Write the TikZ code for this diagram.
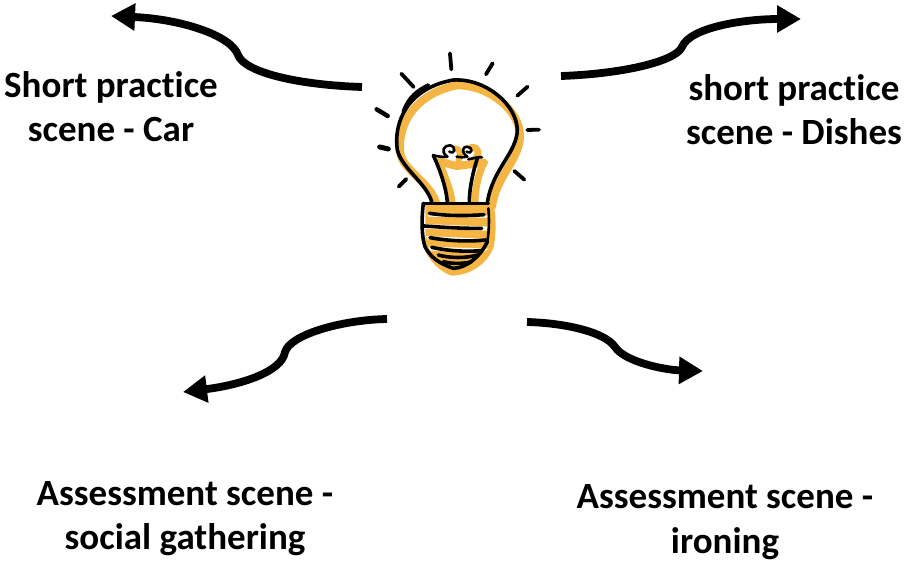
\documentclass[tikz,border=0pt]{standalone}
\usepackage{fontspec}
\setmainfont{Carlito}[Ligatures={NoCommon}]
\usetikzlibrary{arrows.meta}
\definecolor{bulbgold}{HTML}{F4B545}
\tikzset{
  lbl/.style={align=center,font=\fontsize{37}{44.5}\selectfont\bfseries,inner sep=0pt,text=black},
  flow/.style={line width=7.8pt,-{Triangle[length=24pt,width=26pt]}},
  ink/.style={line width=3.6pt,line cap=round,line join=round},
  inkthin/.style={line width=2.6pt,line cap=round,line join=round},
  glow/.style={line width=3.8pt,line cap=round},
  gold/.style={bulbgold,line width=4.5pt,line join=round,line cap=round}
}
\begin{document}
\begin{tikzpicture}[x=1pt,y=-1pt]
\useasboundingbox (0,0) rectangle (914,562);
% labels
\node[lbl] (car) at (111,106.5) {Short practice\\scene - Car};
\node[lbl] (dishes) at (794,109.5) {short practice\\scene - Dishes};
\node[lbl] (social) at (185,518.5) {Assessment scene -\\social gathering};
\node[lbl] (ironing) at (725,522.3) {Assessment scene -\\ironing};
% connector ends
\coordinate (tlA) at (362,87); \coordinate (tlB) at (111,16);
\coordinate (trA) at (561,76); \coordinate (trB) at (801,19);
\coordinate (blA) at (387,319); \coordinate (blB) at (183,392);
\coordinate (brA) at (527,322); \coordinate (brB) at (703,371);
\draw[flow] (tlA) .. controls (300,85) and (245,73) .. (238,55) .. controls (231,35) and (180,19) .. (tlB);
\draw[flow] (trA) .. controls (620,74) and (675,62) .. (682,47) .. controls (690,27) and (745,19) .. (trB);
\draw[flow] (blA) .. controls (340,320) and (290,335) .. (285,352) .. controls (282,372) and (240,385) .. (blB);
\draw[flow] (brA) .. controls (565,323) and (605,332) .. (615,347) .. controls (625,362) and (665,370) .. (brB);
% bulb, in zoomed coordinates
\begin{scope}[shift={(360,40)},x=0.3333pt,y=-0.3333pt]
  % gold layer
  \draw[gold,line width=8pt] (230,495) .. controls (215,430) and (135,395) .. (122,345)
     .. controls (110,270) and (150,165) .. (290,136)
     .. controls (390,135) and (482,215) .. (480,290)
     .. controls (478,360) and (408,410) .. (396,500);
  \fill[bulbgold] (195,495) -- (385,495) .. controls (400,500) and (407,510) .. (406,530)
     .. controls (408,570) and (406,600) .. (400,625)
     .. controls (385,660) and (345,705) .. (275,707)
     .. controls (245,700) and (205,660) .. (195,630) -- cycle;
  \fill[white] (205,517) -- (385,527) -- (380,533) -- (205,530) -- cycle;
  \fill[white] (190,552) -- (385,560) -- (380,572) -- (190,566) -- cycle;
  \fill[white] (195,588) -- (385,597) -- (380,605) -- (205,598) -- cycle;
  \fill[white] (205,620) -- (385,626) -- (370,636) -- (210,632) -- cycle;
  \fill[white] (187,500) -- (196,500) -- (196,640) -- (187,600) -- cycle;
  \draw[gold,line width=7pt] (245,385) .. controls (258,420) and (272,450) .. (276,485);
  \draw[gold,line width=7pt] (372,368) .. controls (355,400) and (345,450) .. (345,485);
  \draw[gold,line width=8pt] (240,365) -- (290,378) -- (372,368);
  \draw[gold,line width=6pt] (285,325) .. controls (300,325) and (305,345) .. (295,362);
  \draw[gold,line width=7pt] (335,322) .. controls (358,322) and (360,345) .. (345,358);
  % black outline
  \draw[ink] (215,485) .. controls (200,430) and (125,385) .. (112,330)
     .. controls (100,250) and (140,145) .. (280,120)
     .. controls (380,115) and (470,195) .. (472,270)
     .. controls (470,340) and (395,390) .. (382,490);
  \draw[ink] (130,215) .. controls (145,170) and (175,150) .. (205,135);
  % filament
  \draw[ink] (220,346) .. controls (240,390) and (258,440) .. (262,485);
  \draw[ink] (352,355) .. controls (338,400) and (328,445) .. (328,488);
  \draw[inkthin] (220,346) .. controls (235,350) and (250,352) .. (262,350);
  \draw[inkthin] (262,350) .. controls (240,335) and (252,315) .. (270,316) .. controls (290,320) and (285,345) .. (268,335);
  \draw[inkthin] (290,350) .. controls (300,353) and (310,352) .. (322,350);
  \draw[inkthin] (322,350) .. controls (300,335) and (310,318) .. (322,320) .. controls (340,322) and (338,345) .. (320,335);
  \draw[inkthin] (325,358) .. controls (340,355) and (355,350) .. (366,352);
  % base
  \draw[ink] (190,490) -- (385,490);
  \draw[ink] (190,490) .. controls (184,540) and (185,590) .. (195,620) .. controls (210,650) and (235,670) .. (280,685) .. controls (320,685) and (365,645) .. (382,605);
  \draw[inkthin] (382,605) .. controls (388,570) and (388,530) .. (385,505);
  \draw[ink] (208,520) .. controls (260,528) and (320,528) .. (372,524);
  \draw[ink] (192,558) .. controls (250,562) and (310,566) .. (365,565);
  \draw[ink] (210,593) .. controls (260,602) and (320,606) .. (378,600);
  \draw[ink] (215,622) .. controls (260,632) and (310,636) .. (365,632);
  \draw[ink] (235,645) .. controls (270,655) and (320,655) .. (352,645);
  \draw[ink] (250,665) .. controls (275,672) and (310,672) .. (335,665);
  % rays
  \draw[glow] (270,40) -- (274,88);
  \draw[glow] (398,70) -- (378,103);
  \draw[glow] (503,140) -- (472,167);
  \draw[glow] (502,270) -- (537,269);
  \draw[glow] (463,393) -- (493,419);
  \draw[glow] (139,417) -- (116,440);
  \draw[glow,line width=5pt] (59,321) -- (85,327);
  \draw[glow,line width=4.5pt] (50,208) -- (83,228);
  \draw[glow] (124,101) -- (161,141);
\end{scope}
\end{tikzpicture}
\end{document}
